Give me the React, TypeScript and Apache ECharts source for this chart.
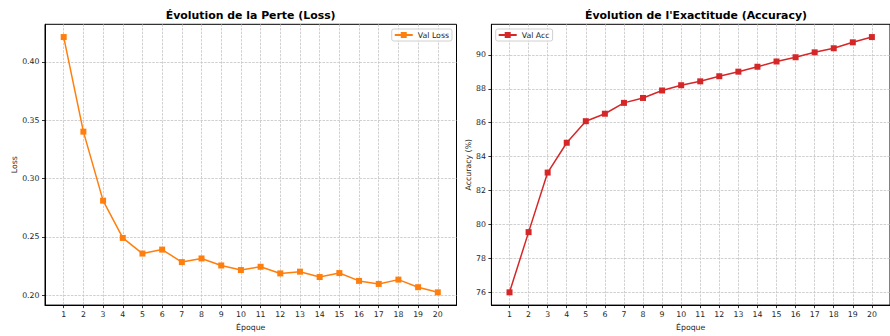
import React, { useEffect, useRef } from "react";
import * as echarts from "echarts";

const epochs = [1, 2, 3, 4, 5, 6, 7, 8, 9, 10, 11, 12, 13, 14, 15, 16, 17, 18, 19, 20];
const valLoss = [0.4212, 0.3402, 0.2811, 0.2492, 0.2358, 0.2392, 0.2285, 0.2316, 0.2256, 0.2217, 0.2245, 0.2188, 0.2203, 0.2157, 0.2191, 0.2124, 0.2098, 0.2135, 0.207, 0.2026];
const valAcc = [76.0, 79.55, 83.06, 84.82, 86.09, 86.53, 87.17, 87.46, 87.9, 88.21, 88.44, 88.74, 89.01, 89.3, 89.61, 89.86, 90.15, 90.39, 90.74, 91.05];
const lossTicks = [0.2, 0.25, 0.3, 0.35, 0.4];
const accTicks = [76, 78, 80, 82, 84, 86, 88, 90];
const titles = ["Évolution de la Perte (Loss)", "Évolution de l'Exactitude (Accuracy)"];

const FONT = "DejaVu Sans";
const TXT = "#262626";

function margins(vals: number[]) {
  const mn = Math.min(...vals);
  const mx = Math.max(...vals);
  const m = (mx - mn) * 0.05;
  return [mn - m, mx + m];
}

export default function App() {
  const ref = useRef<HTMLDivElement>(null);
  useEffect(() => {
    if (!ref.current) return;
    const chart = echarts.init(ref.current, null, { renderer: "svg" });
    const xm = margins(epochs);
    const lm = margins(valLoss);
    const am = margins(valAcc);
    const splitLine = { show: true, lineStyle: { color: "#c4c4c4", type: [2.5, 1.2], width: 0.8 } };
    const mkX = (gi: number) => ({
      type: "value",
      gridIndex: gi,
      min: xm[0],
      max: xm[1],
      name: "Époque",
      nameLocation: "middle",
      nameGap: 17,
      nameTextStyle: { fontFamily: FONT, fontSize: 7.8, color: TXT },
      axisLine: { show: true, lineStyle: { color: "#000", width: 1 } },
      axisTick: { show: true, customValues: epochs, length: 3, inside: false, lineStyle: { color: "#000", width: 0.8 } },
      axisLabel: { customValues: epochs, margin: 5, fontFamily: FONT, fontSize: 7.8, color: TXT },
      splitLine,
    });
    const mkY = (gi: number, mm: number[], ticks: number[], name: string, gap: number, dec: number) => ({
      type: "value",
      gridIndex: gi,
      min: mm[0],
      max: mm[1],
      name,
      nameLocation: "middle",
      nameGap: gap,
      nameTextStyle: { fontFamily: FONT, fontSize: 7.8, color: TXT },
      axisLine: { show: true, lineStyle: { color: "#000", width: 1 } },
      axisTick: { show: true, customValues: ticks, length: 3, inside: false, lineStyle: { color: "#000", width: 0.8 } },
      axisLabel: {
        customValues: ticks,
        margin: 5.5,
        fontFamily: FONT,
        fontSize: 7.8,
        color: TXT,
        formatter: (v: number) => v.toFixed(dec),
      },
      splitLine,
    });
    chart.setOption({
      animation: false,
      backgroundColor: "#fff",
      title: [
        {
          text: titles[0],
          left: 250.7,
          top: 10,
          padding: 0,
          textAlign: "center",
          textStyle: { fontFamily: FONT, fontSize: 10.9, fontWeight: "bold", color: "#000" },
        },
        {
          text: titles[1],
          left: 696,
          top: 10,
          padding: 0,
          textAlign: "center",
          textStyle: { fontFamily: FONT, fontSize: 10.9, fontWeight: "bold", color: "#000" },
        },
      ],
      legend: [
        {
          data: ["Val Loss"],
          right: 438,
          top: 29,
          orient: "vertical",
          padding: [2, 3, 2, 2],
          itemWidth: 18,
          itemHeight: 7.5,
          borderColor: "#d0d0d0",
          borderWidth: 1,
          borderRadius: 2,
          backgroundColor: "rgba(255,255,255,0.8)",
          textStyle: { fontFamily: FONT, fontSize: 7.8, color: TXT },
        },
        {
          data: ["Val Acc"],
          left: 495.7,
          top: 29,
          orient: "vertical",
          padding: [2, 3, 2, 2],
          itemWidth: 18,
          itemHeight: 7.5,
          borderColor: "#d0d0d0",
          borderWidth: 1,
          borderRadius: 2,
          backgroundColor: "rgba(255,255,255,0.8)",
          textStyle: { fontFamily: FONT, fontSize: 7.8, color: TXT },
        },
      ],
      grid: [
        { left: 45, top: 24.3, width: 411.5, height: 282.7, show: true, borderColor: "#000", borderWidth: 1, backgroundColor: "transparent" },
        { left: 491.4, top: 24.3, width: 410, height: 282.7, show: true, borderColor: "#000", borderWidth: 1, backgroundColor: "transparent" },
      ],
      xAxis: [mkX(0), mkX(1)],
      yAxis: [mkY(0, lm, lossTicks, "Loss", 26, 2), mkY(1, am, accTicks, "Accuracy (%)", 18.5, 0)],
      series: [
        {
          name: "Val Loss",
          type: "line",
          xAxisIndex: 0,
          yAxisIndex: 0,
          data: epochs.map((e, i) => [e, valLoss[i]]),
          symbol: "rect",
          symbolSize: 6,
          itemStyle: { color: "#ff7f0e" },
          lineStyle: { color: "#ff7f0e", width: 1.5 },
        },
        {
          name: "Val Acc",
          type: "line",
          xAxisIndex: 1,
          yAxisIndex: 1,
          data: epochs.map((e, i) => [e, valAcc[i]]),
          symbol: "rect",
          symbolSize: 6,
          itemStyle: { color: "#d62728" },
          lineStyle: { color: "#d62728", width: 1.5 },
        },
      ],
    });
    return () => chart.dispose();
  }, []);
  return (
    <div
      ref={ref}
      style={{ position: "absolute", left: 0, top: 0, width: 890, height: 336, overflow: "hidden" }}
    />
  );
}
